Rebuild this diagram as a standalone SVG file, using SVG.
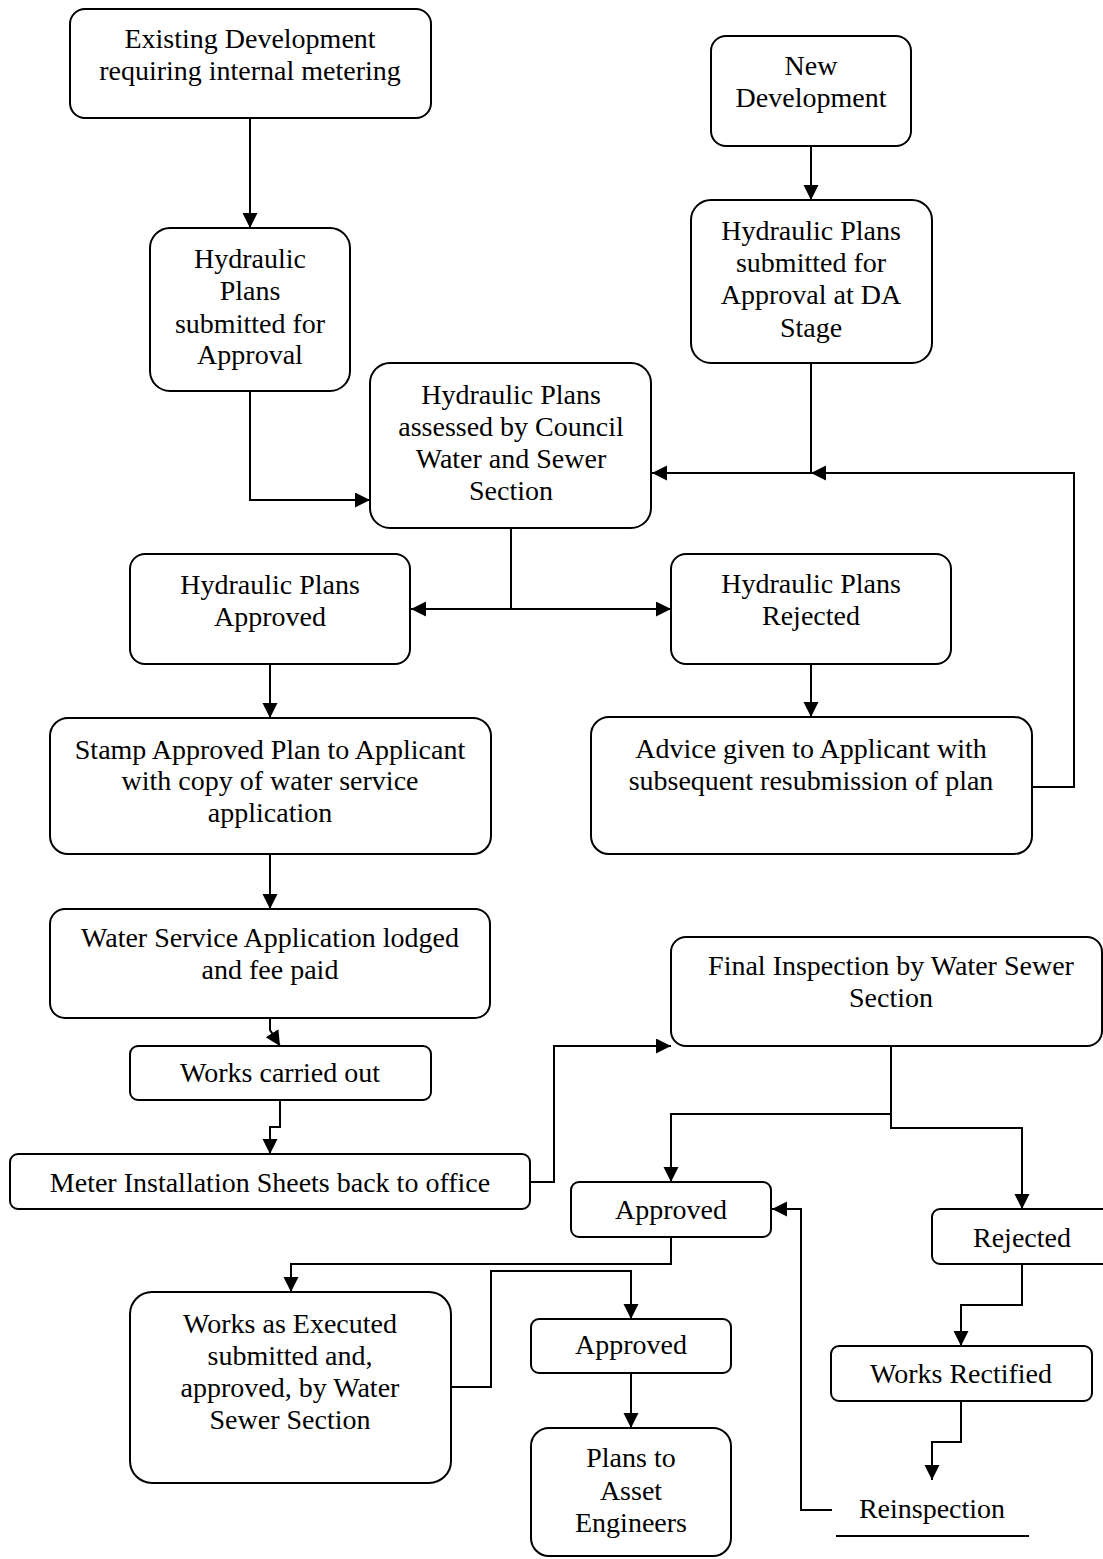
<svg xmlns="http://www.w3.org/2000/svg" width="1103" height="1559" viewBox="0 0 1103 1559">
<style>
.box{fill:#fff;stroke:#000;stroke-width:2}
.t{font-family:"Liberation Serif","Times New Roman",serif;font-size:28px;fill:#000;text-anchor:middle}
.c{fill:none;stroke:#000;stroke-width:2}
.a{marker-end:url(#arr)}
</style>
<defs>
<marker id="arr" markerUnits="userSpaceOnUse" markerWidth="16" markerHeight="16" refX="15" refY="7.5" orient="auto">
<path d="M0,0 L15,7.5 L0,15 z" fill="#000"/>
</marker>
</defs>
<rect width="1103" height="1559" fill="#fff"/>
<g id="connectors">
<path class="c a" d="M250,118 V228"/>
<path class="c a" d="M811,146 V200"/>
<path class="c a" d="M250,391 V500 H370"/>
<path class="c a" d="M811,363 V473 H652"/>
<path class="c a" d="M1032,787 H1074 V473 H811"/>
<path class="c" d="M511,528 V609"/>
<path class="c a" d="M511,609 H411"/>
<path class="c a" d="M511,609 H671"/>
<path class="c a" d="M270,664 V718"/>
<path class="c a" d="M811,664 V717"/>
<path class="c a" d="M270,854 V909"/>
<path class="c a" d="M270,1018 V1030 L280,1046"/>
<path class="c a" d="M280,1100 V1127 H270 V1154"/>
<path class="c a" d="M530,1182 H554 V1046 H671"/>
<path class="c a" d="M891,1046 V1114 H671 V1182"/>
<path class="c a" d="M891,1114 V1128 H1022 V1209"/>
<path class="c a" d="M1022,1264 V1305 H961 V1346"/>
<path class="c a" d="M961,1401 V1442 H932 V1480"/>
<path class="c a" d="M832,1510 H801 V1209 H772"/>
<path class="c a" d="M671,1237 V1264 H291 V1292"/>
<path class="c a" d="M451,1387 H491 V1271 H631 V1319"/>
<path class="c a" d="M631,1373 V1428"/>
</g>
<g id="n1"><rect class="box" x="70" y="9" width="361" height="109" rx="15"/>
<text class="t" x="250" y="48">Existing Development</text><text class="t" x="250" y="80">requiring internal metering</text></g>
<g id="n2"><rect class="box" x="711" y="36" width="200" height="110" rx="15"/>
<text class="t" x="811" y="75">New</text><text class="t" x="811" y="107">Development</text></g>
<g id="n3"><rect class="box" x="150" y="228" width="200" height="163" rx="20"/>
<text class="t" x="250" y="268">Hydraulic</text><text class="t" x="250" y="300">Plans</text><text class="t" x="250" y="333">submitted for</text><text class="t" x="250" y="364">Approval</text></g>
<g id="n4"><rect class="box" x="691" y="200" width="241" height="163" rx="20"/>
<text class="t" x="811" y="240">Hydraulic Plans</text><text class="t" x="811" y="272">submitted for</text><text class="t" x="811" y="304">Approval at DA</text><text class="t" x="811" y="337">Stage</text></g>
<g id="n5"><rect class="box" x="370" y="363" width="281" height="165" rx="20"/>
<text class="t" x="511" y="404">Hydraulic Plans</text><text class="t" x="511" y="436">assessed by Council</text><text class="t" x="511" y="468">Water and Sewer</text><text class="t" x="511" y="500">Section</text></g>
<g id="n6"><rect class="box" x="130" y="554" width="280" height="110" rx="15"/>
<text class="t" x="270" y="594">Hydraulic Plans</text><text class="t" x="270" y="626">Approved</text></g>
<g id="n7"><rect class="box" x="671" y="554" width="280" height="110" rx="15"/>
<text class="t" x="811" y="593">Hydraulic Plans</text><text class="t" x="811" y="625">Rejected</text></g>
<g id="n8"><rect class="box" x="50" y="718" width="441" height="136" rx="18"/>
<text class="t" x="270" y="759">Stamp Approved Plan to Applicant</text><text class="t" x="270" y="790">with copy of water service</text><text class="t" x="270" y="822">application</text></g>
<g id="n9"><rect class="box" x="591" y="717" width="441" height="137" rx="18"/>
<text class="t" x="811" y="758">Advice given to Applicant with</text><text class="t" x="811" y="790">subsequent resubmission of plan</text></g>
<g id="n10"><rect class="box" x="50" y="909" width="440" height="109" rx="15"/>
<text class="t" x="270" y="947">Water Service Application lodged</text><text class="t" x="270" y="979">and fee paid</text></g>
<g id="n11"><rect class="box" x="130" y="1046" width="301" height="54" rx="8"/>
<text class="t" x="280" y="1082">Works carried out</text></g>
<g id="n12"><rect class="box" x="10" y="1154" width="520" height="55" rx="8"/>
<text class="t" x="270" y="1192">Meter Installation Sheets back to office</text></g>
<g id="n13"><rect class="box" x="671" y="937" width="431" height="109" rx="15"/>
<text class="t" x="891" y="975">Final Inspection by Water Sewer</text><text class="t" x="891" y="1007">Section</text></g>
<g id="n14"><rect class="box" x="571" y="1182" width="200" height="55" rx="8"/>
<text class="t" x="671" y="1219">Approved</text></g>
<g id="n15"><rect class="box" x="932" y="1209" width="180" height="55" rx="8"/>
<text class="t" x="1022" y="1247">Rejected</text></g>
<g id="n16"><rect class="box" x="831" y="1346" width="261" height="55" rx="8"/>
<text class="t" x="961" y="1383">Works Rectified</text></g>
<g id="n17"><text class="t" x="932" y="1518">Reinspection</text>
<line x1="836" y1="1536" x2="1029" y2="1536" stroke="#000" stroke-width="2"/></g>
<g id="n18"><rect class="box" x="130" y="1292" width="321" height="191" rx="22"/>
<text class="t" x="290" y="1333">Works as Executed</text><text class="t" x="290" y="1365">submitted and,</text><text class="t" x="290" y="1397">approved, by Water</text><text class="t" x="290" y="1429">Sewer Section</text></g>
<g id="n19"><rect class="box" x="531" y="1319" width="200" height="54" rx="8"/>
<text class="t" x="631" y="1354">Approved</text></g>
<g id="n20"><rect class="box" x="531" y="1428" width="200" height="128" rx="18"/>
<text class="t" x="631" y="1467">Plans to</text><text class="t" x="631" y="1500">Asset</text><text class="t" x="631" y="1532">Engineers</text></g>
</svg>
